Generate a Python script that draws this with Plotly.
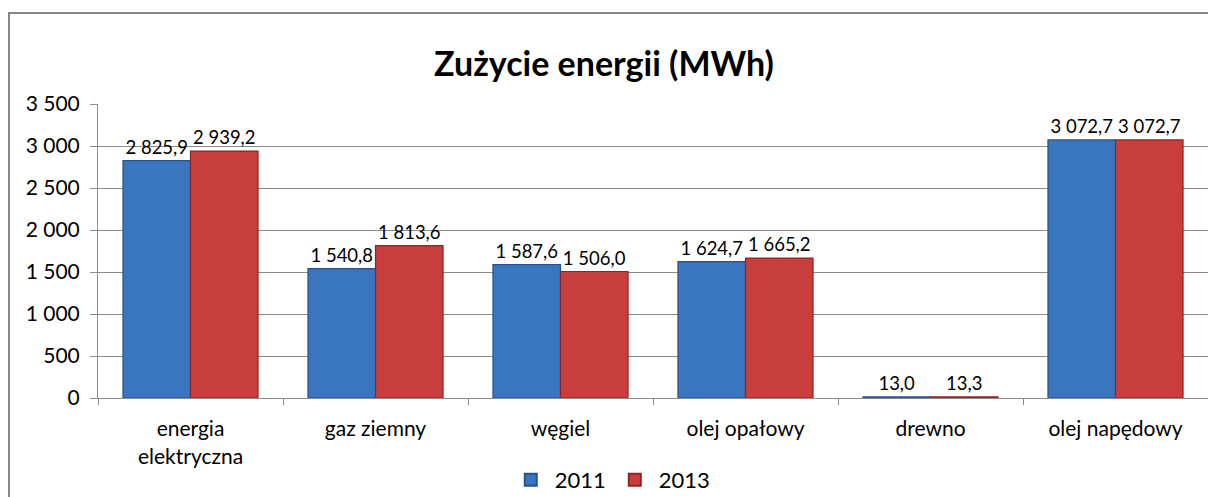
import plotly.graph_objects as go

categories = ["energia<br>elektryczna", "gaz ziemny", "węgiel", "olej opałowy", "drewno", "olej napędowy"]
values_2011 = [2825.9, 1540.8, 1587.6, 1624.7, 13.0, 3072.7]
values_2013 = [2939.2, 1813.6, 1506.0, 1665.2, 13.3, 3072.7]
y_tickvals = [0, 500, 1000, 1500, 2000, 2500, 3000, 3500]
y_ticktext = ["0", "500", "1 000", "1 500", "2 000", "2 500", "3 000", "3 500"]

FONT = "Lato"
GRID = "#8c8c8c"

fig = go.Figure()
fig.add_trace(go.Bar(
    name="2011", x=categories, y=values_2011,
    marker=dict(color="#3a75c0", line=dict(color="#28528a", width=1.2)),
    texttemplate="%{y:,.1f}", textposition="outside",
    textfont=dict(family=FONT, size=18.5, color="#000000"),
    cliponaxis=False,
))
fig.add_trace(go.Bar(
    name="2013", x=categories, y=values_2013,
    marker=dict(color="#c73e3c", line=dict(color="#8e2524", width=1.2)),
    texttemplate="%{y:,.1f}", textposition="outside",
    textfont=dict(family=FONT, size=18.5, color="#000000"),
    cliponaxis=False,
))

L, R, T, B = 98, 0, 104, 99
W, H = 1208, 497
pw, ph = W - L - R, H - T - B

def px_x(x):
    return (x - L) / pw

def px_y(y):
    return (H - B - y) / ph

fig.update_layout(
    width=W, height=H,
    margin=dict(l=L, r=R, t=T, b=B, autoexpand=False),
    paper_bgcolor="white", plot_bgcolor="white",
    separators=", ",
    barmode="group", bargap=0.27, bargroupgap=0,
    font=dict(family=FONT, color="#000000"),
    title=dict(text="<b>Zużycie energii (MWh)</b>", x=0.5, xref="container", xanchor="center",
               y=1 - 64 / H, yref="container", yanchor="middle",
               font=dict(family=FONT, size=34, color="#000000")),
    showlegend=True,
    legend=dict(orientation="h", x=0.506, xref="container", xanchor="center",
                y=1 - 480 / H, yref="container", yanchor="middle",
                font=dict(family=FONT, size=22, color="#000000"),
                itemsizing="constant", traceorder="normal", itemwidth=38),
    xaxis=dict(
        type="category", showgrid=False, showline=True, linecolor=GRID, linewidth=1,
        ticks="outside", tickson="boundaries", ticklen=6, tickcolor=GRID,
        tickfont=dict(family=FONT, size=21, color="#000000"),
        ticklabelstandoff=12,
        fixedrange=True,
    ),
    yaxis=dict(
        range=[0, 3500], tickvals=y_tickvals, ticktext=y_ticktext,
        showgrid=True, gridcolor=GRID, gridwidth=1,
        showline=True, linecolor=GRID, linewidth=1,
        ticks="outside", ticklen=7, tickcolor=GRID,
        tickfont=dict(family=FONT, size=21, color="#000000"),
        ticklabelstandoff=6, zeroline=False,
    ),
    shapes=[
        dict(type="line", xref="paper", yref="paper", x0=px_x(9), x1=1.0, y0=px_y(13), y1=px_y(13),
             line=dict(color="#868686", width=2)),
        dict(type="line", xref="paper", yref="paper", x0=px_x(9), x1=px_x(9), y0=px_y(12), y1=px_y(497),
             line=dict(color="#868686", width=2)),
    ],
)

fig.write_html("out.html", config={"displayModeBar": False, "responsive": False})

# remove the default page margin so the figure sits at the top-left corner
with open("out.html", encoding="utf-8") as f:
    html = f.read()
html = html.replace(
    "<head>",
    "<head><style>html,body{margin:0;padding:0;overflow:hidden;background:#fff;}</style>",
    1,
)
with open("out.html", "w", encoding="utf-8") as f:
    f.write(html)
